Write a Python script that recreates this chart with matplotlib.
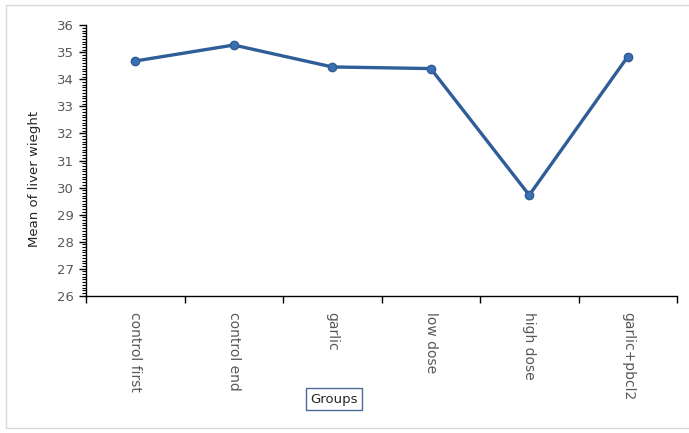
import numpy as np
import matplotlib
matplotlib.use("Agg")
import matplotlib.pyplot as plt
from matplotlib.patches import Rectangle

# Data
groups = ["control first", "control end", "garlic", "low dose", "high dose", "garlic+pbcl2"]
liver_weight = [34.68, 35.27, 34.46, 34.40, 29.72, 34.84]

W, H = 689, 433
fig = plt.figure(figsize=(W / 100, H / 100), dpi=100)
plt.rcParams['font.family'] = ['DejaVu Sans']

# outer chart border
fig.patches.append(Rectangle((6 / W, 1 - 428 / H), 700 / W, 423 / H, transform=fig.transFigure,
                             fill=False, edgecolor="#d9d9d9", linewidth=1))

left, right, top, bottom = 86, 677, 25.3, 295.7
ax = fig.add_axes([left / W, 1 - bottom / H, (right - left) / W, (bottom - top) / H])

x = np.arange(len(groups)) + 0.5
ax.plot(x, liver_weight, color="#2f5d97", linewidth=2.4, marker="o", markersize=6,
        markerfacecolor="#3a6fb0", markeredgecolor="#2f5d97", zorder=3)

ax.set_xlim(0, len(groups))
ax.set_ylim(26, 36)
ax.set_yticks(np.arange(26, 37, 1))
ax.set_yticks(np.arange(26, 36.01, 0.1), minor=True)
ax.set_xticks(np.arange(0, len(groups) + 1))
ax.set_xticklabels([])
ax.set_xticks(x, minor=True)
ax.set_xticklabels(groups, minor=True, rotation=-90, va="top", ha="center",
                   fontsize=10, color="#595959")
ax.tick_params(axis="x", which="minor", length=0, pad=12)
ax.tick_params(axis="x", which="major", length=5, width=1, color="#000000")
ax.tick_params(axis="y", which="major", length=5, width=1, labelsize=9.5,
               labelcolor="#595959", pad=4)
ax.tick_params(axis="y", which="minor", length=3, width=0.8)

for s in ["top", "right"]:
    ax.spines[s].set_visible(False)
for s in ["left", "bottom"]:
    ax.spines[s].set_linewidth(1)

fig.text(35 / W, 1 - 179 / H, "Mean of liver wieght", rotation=90, ha="center", va="center",
         fontsize=9.5, color="#262626")
fig.text(334 / W, 1 - 399 / H, "Groups", ha="center", va="center", fontsize=9.5, color="#262626",
         bbox=dict(boxstyle="square,pad=0.35", facecolor="white", edgecolor="#4a6a94", linewidth=1))

fig.savefig("out.png", dpi=100)
